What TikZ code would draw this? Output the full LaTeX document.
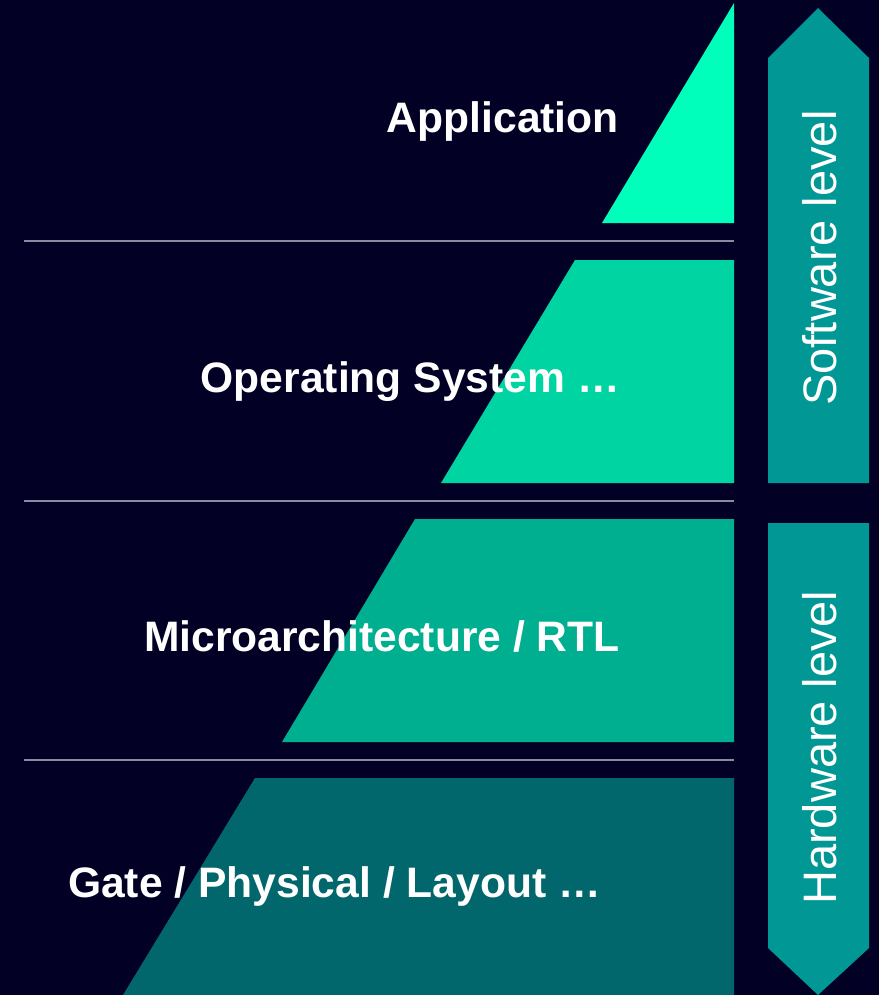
\documentclass[tikz,border=0pt]{standalone}
\usepackage{fontspec}
\setmainfont{Liberation Sans}
\begin{document}
\begin{tikzpicture}[x=1pt,y=-1pt,
  sep/.style={draw=sepgray,line width=2.2pt},
  layerlabel/.style={font=\fontsize{42.6}{42.6}\selectfont\bfseries,text=white,inner sep=0pt,anchor=base east},
  sidelabel/.style={font=\fontsize{47}{47}\selectfont,text=white,inner sep=0pt,rotate=90},
  sidearrow/.style={fill=sideteal,draw=none}]
\definecolor{bg}{HTML}{020024}
\definecolor{layerA}{HTML}{00FFBB}
\definecolor{layerB}{HTML}{00D4A2}
\definecolor{layerC}{HTML}{00AE90}
\definecolor{layerD}{HTML}{02676C}
\definecolor{sideteal}{HTML}{009794}
\definecolor{sepgray}{HTML}{8C8AA0}
\fill[bg] (0,0) rectangle (879,995);
\useasboundingbox (0,0) rectangle (879,995);
% stacked pyramid slices
\fill[layerA] (602,223) -- (734,3) -- (734,223) -- cycle;
\fill[layerB] (441,483) -- (575,260) -- (734,260) -- (734,483) -- cycle;
\fill[layerC] (282,742) -- (415,519) -- (734,519) -- (734,742) -- cycle;
\fill[layerD] (123,995) -- (255,778) -- (734,778) -- (734,995) -- cycle;
% separators between layers
\draw[sep] (24,241) -- (734,241);
\draw[sep] (24,501) -- (734,501);
\draw[sep] (24,760) -- (734,760);
% side arrows
\fill[sidearrow] (768,483) -- (768,58) -- (818,8) -- (869,58) -- (869,483) -- cycle;
\fill[sidearrow] (768,523) -- (869,523) -- (869,948) -- (818,995) -- (768,948) -- cycle;
% labels
\node[layerlabel] (app) at (619,133) {Application};
\node[layerlabel] (os) at (620,392) {Operating System …};
\node[layerlabel] (rtl) at (620,651) {Microarchitecture / RTL};
\node[layerlabel] (gate) at (601,897) {Gate / Physical / Layout …};
\node[sidelabel] (sw) at (820,258) {Software level};
\node[sidelabel] (hw) at (820,748) {Hardware level};
\end{tikzpicture}
\end{document}
